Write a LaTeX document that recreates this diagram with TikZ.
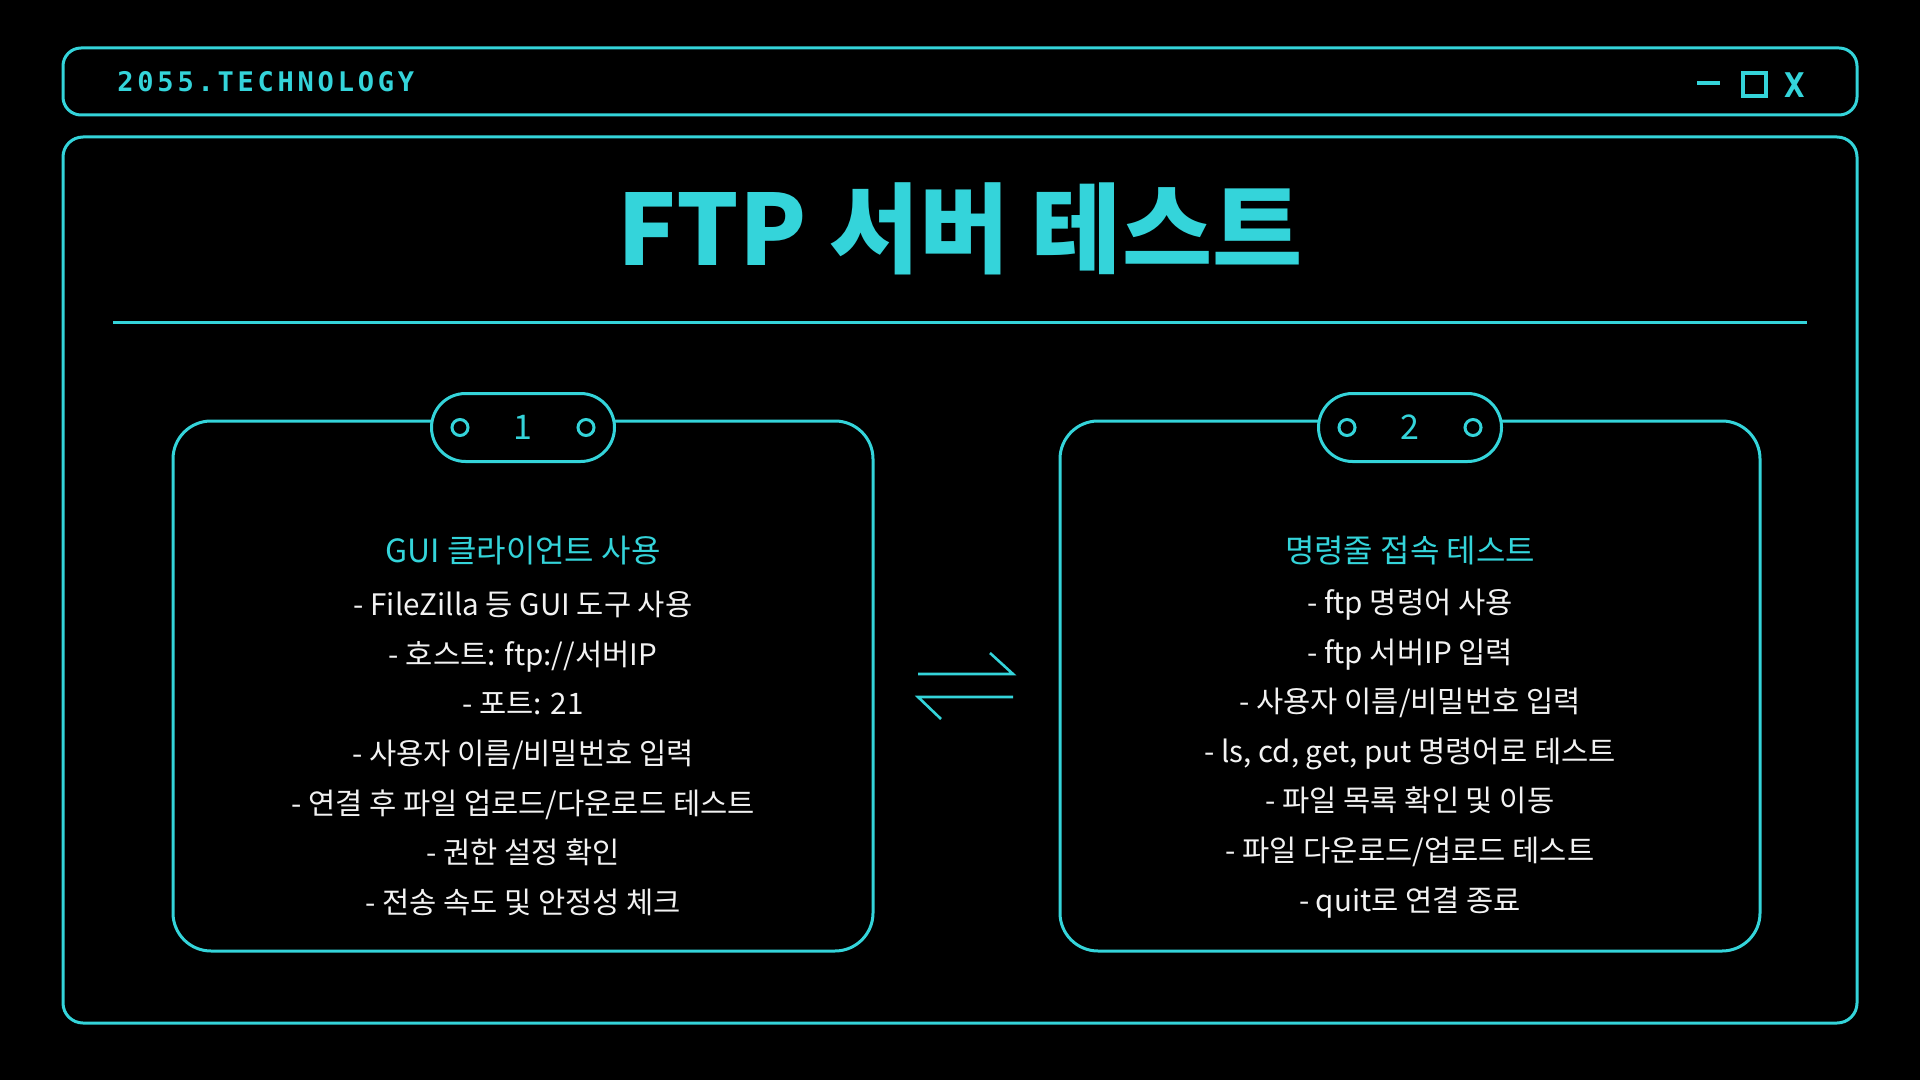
\documentclass[tikz,border=0pt]{standalone}
\usepackage{fontspec}
\setmainfont{Noto Sans CJK KR}
\newfontfamily\techfont[LetterSpace=14]{DejaVu Sans Mono}
\usetikzlibrary{positioning,shapes.misc}

\definecolor{neon}{RGB}{52,212,218}
\definecolor{paper}{RGB}{242,242,242}

\begin{document}
\begin{tikzpicture}[x=0.5pt,y=-0.5pt,
    frame/.style={draw=neon, line width=1.5pt, rounded corners=10pt},
    card/.style={draw=neon, line width=1.5pt, rounded corners=19pt, minimum width=350pt, minimum height=265pt, inner sep=0pt},
    tab/.style={draw=neon, line width=1.5pt, fill=black, rounded rectangle, minimum width=91.5pt, minimum height=34pt, inner sep=0pt, text=neon, font=\fontsize{17}{17}\selectfont},
    dot/.style={draw=neon, line width=1.5pt, circle, minimum size=8pt, inner sep=0pt},
    head/.style={text=neon, font=\fontsize{16}{16}\selectfont},
    items/.style={text=paper, align=center, font=\fontsize{14.8}{24.8}\selectfont},
    swap/.style={draw=neon, line width=1.3pt}]
  \fill[black] (0,0) rectangle (1920,1080);
  % top bar
  \draw[frame, rounded corners=9pt] (63,48) rectangle (1857,115);
  \node[anchor=west, text=neon, inner sep=0pt, font=\techfont\bfseries\fontsize{13.5}{13.5}\selectfont] (brand) at (117,82) {2055.TECHNOLOGY};
  \draw[neon, line width=2.2pt] (1697,83) -- (1720,83);
  \node[draw=neon, line width=2pt, minimum size=11.5pt, inner sep=0pt] (maxbtn) at (1754,84.5) {};
  \node[text=neon, inner sep=0pt, font=\techfont\bfseries\fontsize{17}{17}\selectfont] (closebtn) at (1795,85) {X};
  % main window
  \draw[frame] (63,137) rectangle (1857,1023);
  \node[anchor=base, text=neon, inner sep=0pt, font=\bfseries\fontsize{49}{49}\selectfont] (title) at (960,266) {FTP 서버 테스트};
  \draw[neon, line width=1.5pt] (113,323) -- (1807,323);
  % card 1
  \node[card] (cardA) at (523,686) {};
  \node[tab] (tabA) at ([yshift=-4pt]cardA.north) {1};
  \node[dot] at ([xshift=-31.5pt]tabA.center) {};
  \node[dot] at ([xshift=31.5pt]tabA.center) {};
  \node[head] (headA) at ([yshift=67.5pt]cardA.center) {GUI 클라이언트 사용};
  \node[items] (listA) at ([yshift=-33.75pt]cardA.center) {- FileZilla 등 GUI 도구 사용\\- 호스트: ftp://서버IP\\- 포트: 21\\- 사용자 이름/비밀번호 입력\\- 연결 후 파일 업로드/다운로드 테스트\\- 권한 설정 확인\\- 전송 속도 및 안정성 체크};
  % card 2
  \node[card] (cardB) at (1410,686) {};
  \node[tab] (tabB) at ([yshift=-4pt]cardB.north) {2};
  \node[dot] at ([xshift=-31.5pt]tabB.center) {};
  \node[dot] at ([xshift=31.5pt]tabB.center) {};
  \node[head] (headB) at ([yshift=67.5pt]cardB.center) {명령줄 접속 테스트};
  \node[items] (listB) at ([yshift=-33.75pt]cardB.center) {- ftp 명령어 사용\\- ftp 서버IP 입력\\- 사용자 이름/비밀번호 입력\\- ls, cd, get, put 명령어로 테스트\\- 파일 목록 확인 및 이동\\- 파일 다운로드/업로드 테스트\\- quit로 연결 종료};
  % swap arrows
  \coordinate (swapL) at (918,685.5);
  \coordinate (swapR) at (1013,685.5);
  \draw[swap] ([yshift=5.75pt]swapL) -- ([yshift=5.75pt]swapR) -- ++(-23,-21);
  \draw[swap] ([yshift=-5.75pt]swapR) -- ([yshift=-5.75pt]swapL) -- ++(23,22);
\end{tikzpicture}
\end{document}
